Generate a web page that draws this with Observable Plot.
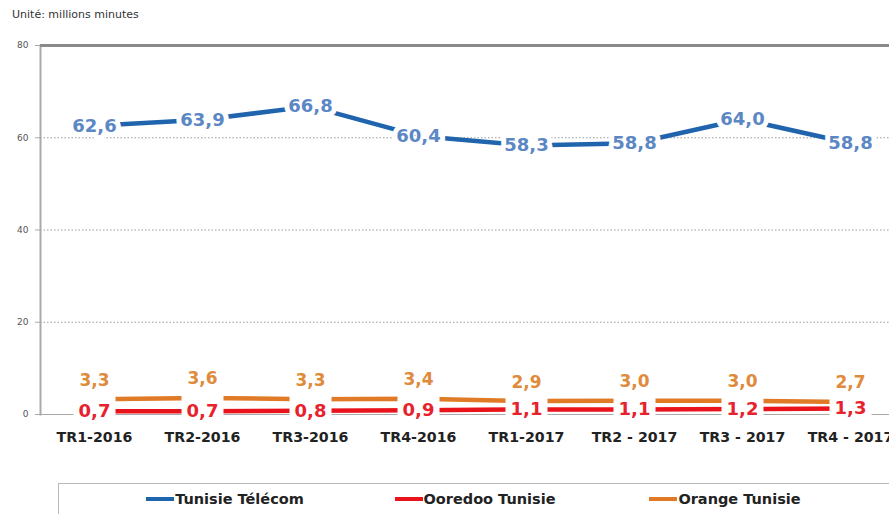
<!DOCTYPE html>
<html><head><meta charset="utf-8">
<script src="https://cdn.jsdelivr.net/npm/d3@7"></script>
<script src="https://cdn.jsdelivr.net/npm/@observablehq/plot@0.6"></script>
<style>
body{margin:0;background:#fff;overflow:hidden;font-family:"DejaVu Sans",sans-serif;}
#title{position:absolute;left:12px;top:8px;font-size:11px;color:#333;}
#chart{position:absolute;left:0;top:30px;}
#legend{position:absolute;left:58px;top:483px;width:900px;height:40px;border:1px solid #bbb;box-sizing:border-box;display:flex;padding-left:41px;}
.item{width:250px;display:flex;justify-content:center;align-items:center;height:30px;font-weight:bold;font-size:14.5px;color:#222;}
.sw{display:inline-block;width:28px;height:4px;margin-right:1px;}
</style></head><body>
<div id="title">Unité: millions minutes</div>
<div id="chart"></div>
<div id="legend"></div>
<script>
const quarters = ["TR1-2016","TR2-2016","TR3-2016","TR4-2016","TR1-2017","TR2 - 2017","TR3 - 2017","TR4 - 2017"];
const tunisieTelecom = [62.6,63.9,66.8,60.4,58.3,58.8,64.0,58.8];
const ooredooTunisie = [0.7,0.7,0.8,0.9,1.1,1.1,1.2,1.3];
const orangeTunisie = [3.3,3.6,3.3,3.4,2.9,3.0,3.0,2.7];
const seriesNames = ["Tunisie Télécom","Ooredoo Tunisie","Orange Tunisie"];
const lineColors = ["#1f64ad","#e8131b","#e07a26"];
const labelColors = ["#5b87c4","#e8222d","#e08a3c"];
const yTicks = [0,20,40,60,80];
const gridTicks = [20,40,60];

const fmt = v => v.toFixed(1).replace(".", ",");
const rows = quarters.map((q,i)=>({q, tt: tunisieTelecom[i], oo: ooredooTunisie[i], or: orangeTunisie[i]}));

const chart = Plot.plot({
  width: 889, height: 444,
  marginTop: 15, marginBottom: 60, marginLeft: 40, marginRight: -15,
  style: {fontFamily: "DejaVu Sans", overflow: "hidden", background: "white"},
  x: {type: "point", domain: quarters, label: null},
  y: {domain: [0, 80], label: null},
  marks: [
    Plot.ruleY(gridTicks, {stroke: "#999", strokeDasharray: "1.5,2", strokeWidth: 1}),
    Plot.ruleY([0], {stroke: "#aaa", strokeWidth: 1}),
    Plot.frame({anchor: "left", stroke: "#aaa", strokeWidth: 2}),
    Plot.ruleY([80], {stroke: "#8a8a8a", strokeWidth: 3}),
    Plot.axisY({ticks: yTicks, tickSize: 5, tickPadding: 7, fontSize: 9, color: "#555", stroke: "#aaa"}),
    Plot.axisX({tickSize: 0, tickPadding: 17, fontSize: 14.2, fontWeight: "bold", color: "#222"}),
    Plot.lineY(rows, {x: "q", y: "or", stroke: lineColors[2], strokeWidth: 4.5}),
    Plot.lineY(rows, {x: "q", y: "oo", stroke: lineColors[1], strokeWidth: 4.5}),
    Plot.lineY(rows, {x: "q", y: "tt", stroke: lineColors[0], strokeWidth: 4.5}),
    // white label box behind the Ooredoo labels (also hides the Orange line there, as in the reference)
    Plot.ruleX(rows, {x: "q", y1: "oo", y2: "oo", insetTop: -16, insetBottom: -13, stroke: "white", strokeWidth: 42}),
    // labels with white halo
    Plot.text(rows, {x: "q", y: "tt", text: d => fmt(d.tt), fontSize: 18, fontWeight: "bold", fill: labelColors[0], stroke: "white", strokeWidth: 10, paintOrder: "stroke"}),
    Plot.text(rows, {x: "q", y: "oo", text: d => fmt(d.oo), fontSize: 18, fontWeight: "bold", fill: labelColors[1]}),
    Plot.text(rows, {x: "q", y: "or", text: d => fmt(d.or), fontSize: 17, fontWeight: "bold", fill: labelColors[2], dy: -19})
  ]
});
document.getElementById("chart").appendChild(chart);

const legend = document.getElementById("legend");
seriesNames.forEach((name, i) => {
  const item = document.createElement("div");
  item.className = "item";
  const sw = document.createElement("span");
  sw.className = "sw";
  sw.style.background = lineColors[i];
  item.appendChild(sw);
  item.appendChild(document.createTextNode(name));
  legend.appendChild(item);
});
</script>
</body></html>
